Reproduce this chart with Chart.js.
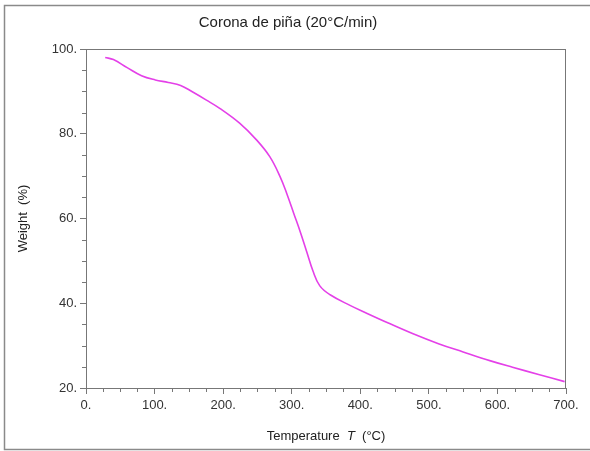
<!DOCTYPE html>
<html lang="es">
  <head>
    <meta charset="UTF-8" />
    <title>Corona de piña</title>
    <script src="https://cdn.jsdelivr.net/npm/chart.js"></script>
    <style>
      body { margin: 0; background: #fff; }
      #grafico { display: block; }
    </style>
  </head>
  <body>
    <canvas id="grafico" width="590" height="451"></canvas>
    <script>
      // lectura de la curva TGA
      const temperaturas = [28, 40, 60, 81, 101, 120, 138, 155, 175, 195, 224, 249, 268, 283, 293, 303, 313, 322, 331, 341, 356, 385, 410, 440, 477, 515, 550, 590, 622, 660, 698];
      const pesos = [98.0, 97.5, 95.6, 93.7, 92.7, 92.1, 91.4, 89.9, 88.0, 86.0, 82.5, 78.5, 74.6, 69.9, 65.8, 61.2, 56.6, 52.1, 47.6, 44.1, 42.0, 39.5, 37.6, 35.4, 32.8, 30.4, 28.5, 26.4, 24.9, 23.2, 21.5];
      const xTicks = [0, 100, 200, 300, 400, 500, 600, 700];
      const yTicks = [20, 40, 60, 80, 100];

      const puntos = temperaturas.map(function (t, i) {
        return { x: t, y: pesos[i] };
      });

      const gris = "#777";
      const fuente = "'Liberation Sans', Arial, sans-serif";

      // marco, ticks menores y titulo del eje x
      const extras = {
        id: "extras",
        afterDraw(chart) {
          const ctx = chart.ctx;
          const a = chart.chartArea;
          const sx = chart.scales.x;
          const sy = chart.scales.y;
          ctx.save();
          ctx.strokeStyle = gris;
          ctx.lineWidth = 1;
          ctx.strokeRect(a.left + 0.5, a.top + 0.5, a.right - a.left - 1, a.bottom - a.top);

          ctx.beginPath();
          for (let v = 25; v < 700; v += 25) {
            if (v % 100 === 0) continue;
            const px = Math.round(sx.getPixelForValue(v)) + 0.5;
            ctx.moveTo(px, a.bottom);
            ctx.lineTo(px, a.bottom + 4);
          }
          for (let v = 25; v < 100; v += 5) {
            if (v % 20 === 0) continue;
            const py = Math.round(sy.getPixelForValue(v)) + 0.5;
            ctx.moveTo(a.left, py);
            ctx.lineTo(a.left - 4, py);
          }
          ctx.stroke();

          // borde exterior
          ctx.strokeStyle = "#8a8a8a";
          ctx.lineWidth = 1.5;
          ctx.beginPath();
          ctx.moveTo(590, 5.5);
          ctx.lineTo(4.5, 5.5);
          ctx.lineTo(4.5, 449.5);
          ctx.lineTo(590, 449.5);
          ctx.stroke();

          // Temperature T (°C) con T en cursiva
          const partes = [
            ["Temperature  ", "13px " + fuente],
            ["T", "italic 13px " + fuente],
            ["  (°C)", "13px " + fuente],
          ];
          let ancho = 0;
          partes.forEach(function (p) {
            ctx.font = p[1];
            ancho += ctx.measureText(p[0]).width;
          });
          let x = (a.left + a.right) / 2 - ancho / 2;
          ctx.fillStyle = "#222";
          ctx.textBaseline = "middle";
          ctx.textAlign = "left";
          partes.forEach(function (p) {
            ctx.font = p[1];
            ctx.fillText(p[0], x, 436);
            x += ctx.measureText(p[0]).width;
          });
          ctx.restore();
        },
      };

      new Chart(document.getElementById("grafico"), {
        type: "line",
        data: {
          datasets: [
            {
              label: "Corona de piña",
              data: puntos,
              borderColor: "rgb(228, 64, 232)",
              borderWidth: 1.6,
              pointRadius: 0,
              fill: false,
              tension: 0.4,
            },
          ],
        },
        options: {
          responsive: false,
          animation: false,
          layout: { padding: { left: 10, right: 24, top: 0, bottom: 0 } },
          plugins: {
            legend: { display: false },
            tooltip: { enabled: false },
            title: {
              display: true,
              text: "Corona de piña (20°C/min)",
              color: "#222",
              font: { family: fuente, size: 15, weight: "normal" },
              padding: { top: 14, bottom: 17 },
            },
          },
          scales: {
            x: {
              type: "linear",
              min: 0,
              max: 700,
              afterBuildTicks(scale) {
                scale.ticks = xTicks.map(function (v) { return { value: v }; });
              },
              afterFit(scale) { scale.height = 63; },
              ticks: {
                color: "#333",
                font: { family: fuente, size: 13 },
                padding: 4,
                maxRotation: 0,
                callback: function (v) { return v + "."; },
              },
              grid: { drawOnChartArea: false, tickLength: 6, color: gris },
              border: { color: gris },
            },
            y: {
              type: "linear",
              min: 20,
              max: 100,
              afterBuildTicks(scale) {
                scale.ticks = yTicks.map(function (v) { return { value: v }; });
              },
              afterFit(scale) { scale.width = 76; },
              ticks: {
                color: "#333",
                font: { family: fuente, size: 13 },
                padding: 3,
                callback: function (v) { return v + "."; },
              },
              grid: { drawOnChartArea: false, tickLength: 6, color: gris },
              border: { color: gris },
              title: {
                display: true,
                text: "Weight  (%)",
                color: "#222",
                font: { family: fuente, size: 13 },
                padding: { top: 6, bottom: 0 },
              },
            },
          },
        },
        plugins: [extras],
      });
    </script>
  </body>
</html>
